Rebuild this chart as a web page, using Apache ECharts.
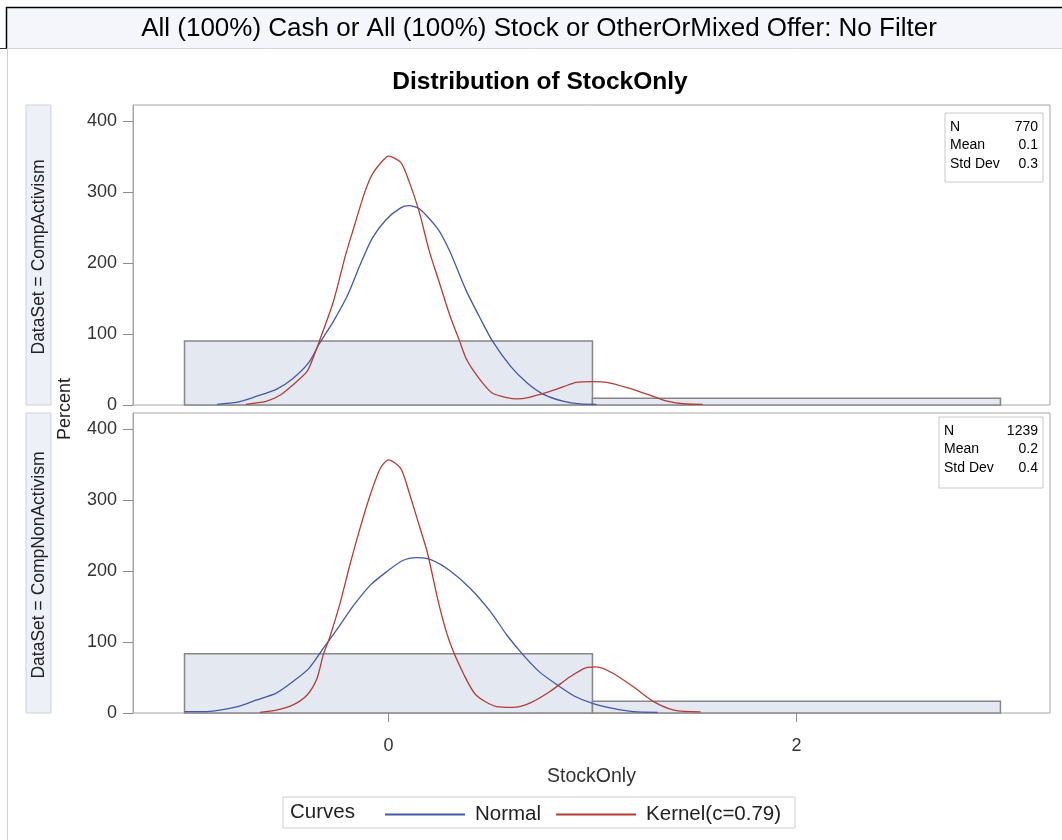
<!DOCTYPE html>
<html>
<head>
<meta charset="utf-8">
<script src="https://cdn.jsdelivr.net/npm/echarts@6/dist/echarts.min.js"></script>
<style>
  html, body { margin: 0; padding: 0; background: #ffffff; }
  #chart { width: 1062px; height: 840px; }
</style>
</head>
<body>
<div id="chart"></div>
<script>
// ---- Data ----
const pageTitle = 'All (100%) Cash or All (100%) Stock or OtherOrMixed Offer: No Filter';
const chartTitle = 'Distribution of StockOnly';
const panelNames = ['DataSet = CompActivism', 'DataSet = CompNonActivism'];
const xTicks = [0, 2];

// Histogram bins: [binStart, binEnd, percent]
const binsActivism = [[-1, 1, 90.4], [1, 3, 9.6]];
const binsNonActivism = [[-1, 1, 83.5], [1, 3, 16.5]];

// Fitted curves: [StockOnly, percent]
const normalActivism = [
  [-0.84, 1], [-0.74, 4], [-0.65, 12], [-0.55, 22], [-0.47, 37], [-0.39, 60],
  [-0.34, 86], [-0.27, 118], [-0.2, 155], [-0.14, 197], [-0.08, 235], [-0.01, 262],
  [0.06, 278], [0.1, 281], [0.15, 277], [0.24, 249], [0.3, 217], [0.38, 162],
  [0.45, 122], [0.51, 90], [0.6, 54], [0.68, 31], [0.76, 15], [0.86, 5],
  [0.94, 1.5], [1.02, 1]
];
const kernelActivism = [
  [-0.7, 1], [-0.6, 5], [-0.53, 14], [-0.47, 28], [-0.4, 47], [-0.37, 66],
  [-0.34, 89], [-0.27, 146], [-0.21, 212], [-0.17, 250], [-0.12, 297], [-0.08, 325],
  [-0.03, 344], [0, 351], [0.06, 342], [0.1, 316], [0.15, 273], [0.2, 217],
  [0.25, 172], [0.3, 127], [0.35, 89], [0.38, 66], [0.42, 47], [0.47, 28],
  [0.51, 16.5], [0.58, 10.4], [0.63, 8.5], [0.69, 10.8], [0.78, 18], [0.86, 26],
  [0.92, 32], [1.0, 33], [1.07, 32], [1.17, 24.5], [1.27, 15], [1.36, 5.7],
  [1.46, 1.4], [1.54, 1]
];
const normalNonActivism = [
  [-1.0, 1.8], [-0.89, 2], [-0.74, 9], [-0.65, 18], [-0.55, 28], [-0.47, 44],
  [-0.39, 63], [-0.32, 91], [-0.25, 119], [-0.17, 152], [-0.09, 180], [-0.01, 199],
  [0.07, 215], [0.14, 219], [0.21, 216], [0.3, 201], [0.4, 176], [0.5, 143],
  [0.58, 110], [0.66, 82], [0.74, 58], [0.83, 39], [0.91, 24], [1.0, 13.6],
  [1.1, 6.6], [1.2, 2], [1.32, 1]
];
const kernelNonActivism = [
  [-0.63, 1], [-0.55, 4], [-0.47, 11], [-0.4, 25], [-0.35, 49], [-0.32, 82],
  [-0.29, 105], [-0.24, 152], [-0.19, 208], [-0.14, 260], [-0.09, 307], [-0.04, 345],
  [0, 357], [0.06, 345], [0.1, 312], [0.15, 265], [0.19, 227], [0.25, 150],
  [0.3, 100], [0.37, 54], [0.43, 25], [0.53, 9], [0.61, 8], [0.69, 13.6],
  [0.79, 30], [0.89, 51], [0.97, 64], [1.02, 65], [1.1, 56], [1.2, 37],
  [1.3, 16], [1.4, 4], [1.53, 1.5]
];

// Summary statistics per panel
const statsLabels = ['N', 'Mean', 'Std Dev'];
const statsActivism = ['770', '0.1', '0.3'];
const statsNonActivism = ['1239', '0.2', '0.4'];

const legendTitle = 'Curves';
const curveNames = ['Normal', 'Kernel(c=0.79)'];

// ---- Styling ----
const FONT = '"Liberation Sans", Arial, sans-serif';
const BLUE = '#4358a6';
const RED = '#b23d36';
const BAR_FILL = '#e3e8f1';
const BAR_EDGE = '#878787';
const FRAME = '#a6a6a6';
const X_MIN = -1.2525, X_MAX = 3.243;

const grids = [
  { left: 133, top: 105, width: 917, height: 300 },
  { left: 133, top: 413, width: 917, height: 300 }
];

function histRender(params, api) {
  const p0 = api.coord([api.value(0), api.value(2)]);
  const p1 = api.coord([api.value(1), 0]);
  return {
    type: 'rect',
    shape: { x: p0[0], y: p0[1], width: p1[0] - p0[0], height: p1[1] - p0[1] },
    style: { fill: BAR_FILL, stroke: BAR_EDGE, lineWidth: 1.5 }
  };
}

function xAxisFor(i, showLabels) {
  return {
    type: 'value', gridIndex: i, min: X_MIN, max: X_MAX,
    axisLine: { show: false, onZero: false },
    splitLine: { show: false },
    axisTick: { show: showLabels, customValues: xTicks, length: 9, lineStyle: { color: '#8c8c8c' } },
    axisLabel: { show: showLabels, customValues: xTicks, margin: 24, fontFamily: FONT, fontSize: 18, color: '#333' },
    name: showLabels ? 'StockOnly' : '', nameLocation: 'middle', nameGap: 54,
    nameTextStyle: { fontFamily: FONT, fontSize: 19.5, color: '#333' }
  };
}
function yAxisFor(i) {
  return {
    type: 'value', gridIndex: i, min: 0, max: 423, interval: 100,
    axisLine: { show: true, onZero: false, lineStyle: { color: FRAME } },
    splitLine: { show: false },
    axisTick: { show: true, length: 10, lineStyle: { color: '#8c8c8c' } },
    axisLabel: { margin: 16, fontFamily: FONT, fontSize: 18, color: '#333',
      showMaxLabel: false }
  };
}

function lineSeries(name, data, idx, color) {
  return {
    name: name, type: 'line', xAxisIndex: idx, yAxisIndex: idx, data: data,
    showSymbol: false, smooth: 0.25, z: 3,
    lineStyle: { color: color, width: 1.3 }, itemStyle: { color: color }
  };
}

function statsBox(x, y, w, h, values) {
  const els = [{ type: 'rect', shape: { x: x, y: y, width: w, height: h },
    style: { fill: '#fff', stroke: '#c8c8c8', lineWidth: 1 }, z: 50 }];
  statsLabels.forEach((lab, k) => {
    const ty = y + 14 + k * 18.5;
    els.push({ type: 'text', x: x + 5, y: ty, z: 51,
      style: { text: lab, font: '14px ' + FONT, fill: '#000', verticalAlign: 'middle', align: 'left' } });
    els.push({ type: 'text', x: x + w - 5, y: ty, z: 51,
      style: { text: values[k], font: '14px ' + FONT, fill: '#000', verticalAlign: 'middle', align: 'right' } });
  });
  return els;
}

function stripLabel(y0, y1, text) {
  return [
    { type: 'rect', shape: { x: 26, y: y0, width: 25, height: y1 - y0 },
      style: { fill: '#eef0f8', stroke: '#cfd2da', lineWidth: 1 } },
    { type: 'text', x: 39, y: (y0 + y1) / 2 + 2, rotation: Math.PI / 2,
      style: { text: text, font: '17.5px ' + FONT, fill: '#222', align: 'center', verticalAlign: 'middle' } }
  ];
}

const graphics = [
  // heading band
  { type: 'rect', shape: { x: 6, y: 7, width: 1060, height: 41 }, style: { fill: '#f5f6fb' } },
  { type: 'line', shape: { x1: 6, y1: 7.5, x2: 1062, y2: 7.5 }, style: { stroke: '#000', lineWidth: 1.5 } },
  { type: 'line', shape: { x1: 6.5, y1: 7, x2: 6.5, y2: 48 }, style: { stroke: '#000', lineWidth: 1.5 } },
  { type: 'line', shape: { x1: 0, y1: 48.5, x2: 7, y2: 48.5 }, style: { stroke: '#333', lineWidth: 1 } },
  { type: 'line', shape: { x1: 7, y1: 48.5, x2: 1062, y2: 48.5 }, style: { stroke: '#d8d8d8', lineWidth: 1 } },
  { type: 'line', shape: { x1: 7.5, y1: 48, x2: 7.5, y2: 840 }, style: { stroke: '#d0d0d0', lineWidth: 1 } },
  { type: 'text', x: 539, y: 29,
    style: { text: pageTitle, font: '26px ' + FONT, fill: '#000', align: 'center', verticalAlign: 'middle' } },
  { type: 'text', x: 540, y: 82,
    style: { text: chartTitle, font: 'bold 24.5px ' + FONT, fill: '#000', align: 'center', verticalAlign: 'middle' } },
  { type: 'text', x: 65, y: 409, rotation: Math.PI / 2,
    style: { text: 'Percent', font: '18px ' + FONT, fill: '#222', align: 'center', verticalAlign: 'middle' } },
  ...stripLabel(105, 405, panelNames[0]),
  ...stripLabel(413, 713, panelNames[1]),
  ...statsBox(945, 113, 98, 69, statsActivism),
  ...statsBox(939, 417, 104, 71, statsNonActivism),
  // legend frame
  { type: 'rect', shape: { x: 283, y: 797, width: 512, height: 31 },
    style: { fill: '#fff', stroke: '#cfcfcf', lineWidth: 1 }, z: -1 },
  { type: 'text', x: 290, y: 812,
    style: { text: legendTitle, font: '20.5px ' + FONT, fill: '#222', align: 'left', verticalAlign: 'middle' } }
];

const chart = echarts.init(document.getElementById('chart'), null, { renderer: 'canvas' });
chart.setOption({
  animation: false,
  backgroundColor: '#ffffff',
  grid: grids.map(g => Object.assign({ show: true, borderColor: FRAME, borderWidth: 1, backgroundColor: 'transparent' }, g)),
  xAxis: [xAxisFor(0, false), xAxisFor(1, true)],
  yAxis: [yAxisFor(0), yAxisFor(1)],
  legend: {
    left: 380, top: 799, itemWidth: 80, itemHeight: 2, itemGap: 15, icon: 'rect',
    data: curveNames,
    textStyle: { fontFamily: FONT, fontSize: 20.5, color: '#222', padding: [0, 0, 0, 5] }
  },
  graphic: graphics,
  series: [
    { type: 'custom', xAxisIndex: 0, yAxisIndex: 0, renderItem: histRender, data: binsActivism,
      encode: { x: [0, 1], y: 2 }, z: 1, silent: true },
    { type: 'custom', xAxisIndex: 1, yAxisIndex: 1, renderItem: histRender, data: binsNonActivism,
      encode: { x: [0, 1], y: 2 }, z: 1, silent: true },
    lineSeries(curveNames[0], normalActivism, 0, BLUE),
    lineSeries(curveNames[1], kernelActivism, 0, RED),
    lineSeries(curveNames[0], normalNonActivism, 1, BLUE),
    lineSeries(curveNames[1], kernelNonActivism, 1, RED)
  ]
});
</script>
</body>
</html>
